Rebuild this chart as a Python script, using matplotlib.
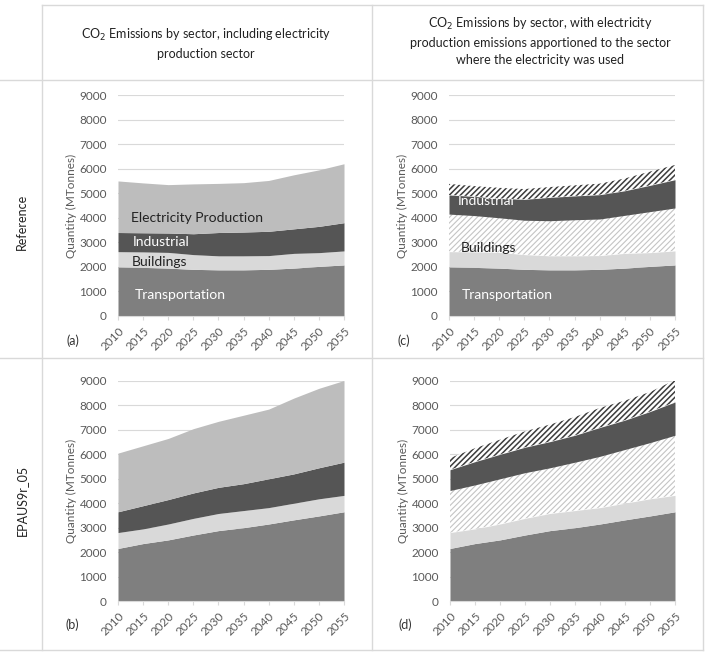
import matplotlib
matplotlib.use('Agg')
import matplotlib.pyplot as plt
from matplotlib.lines import Line2D

plt.rcParams['font.family'] = ['Lato', 'DejaVu Sans']

years = [2010, 2015, 2020, 2025, 2030, 2035, 2040, 2045, 2050, 2055]

# Reference scenario (MTonnes)
ref_transport = [2000, 1980, 1950, 1900, 1880, 1880, 1900, 1950, 2020, 2080]
ref_buildings = [620, 630, 640, 600, 570, 570, 560, 600, 560, 570]
ref_industrial = [780, 780, 790, 850, 950, 970, 990, 1000, 1070, 1150]
ref_elec = [2100, 2030, 1970, 2030, 2000, 2010, 2070, 2200, 2300, 2400]
# electricity apportioned to end-use sectors
ref_bld_elec = [1530, 1480, 1410, 1400, 1430, 1470, 1490, 1550, 1670, 1750]
ref_ind_elec = [450, 420, 430, 420, 420, 430, 450, 500, 560, 600]

# EPAUS9r_05 scenario (MTonnes)
epa_transport = [2150, 2350, 2500, 2700, 2880, 3000, 3150, 3320, 3480, 3650]
epa_buildings = [650, 600, 650, 680, 700, 700, 670, 680, 700, 670]
epa_industrial = [850, 950, 1000, 1040, 1070, 1100, 1180, 1200, 1270, 1360]
epa_elec = [2400, 2450, 2500, 2630, 2700, 2800, 2850, 3100, 3250, 3340]
epa_bld_elec = [1720, 1800, 1850, 1870, 1870, 1980, 2100, 2200, 2300, 2460]
epa_ind_elec = [480, 550, 600, 650, 700, 750, 800, 800, 800, 900]

row_labels = ['Reference', 'EPAUS9r_05']
col_titles = ['CO$_2$ Emissions by sector, including electricity\nproduction sector',
              'CO$_2$ Emissions by sector, with electricity\nproduction emissions apportioned to the sector\nwhere the electricity was used']

c_trans = '#7f7f7f'
c_bld = '#d9d9d9'
c_ind = '#555555'
c_elec = '#bdbdbd'
grey_txt = '#595959'


def cum(*series):
	out = []
	tot = [0] * len(years)
	for s in series:
		tot = [a + b for a, b in zip(tot, s)]
		out.append(tot)
	return out


def style_axis(ax, letter):
	ax.set_xlim(2010, 2055)
	ax.set_ylim(0, 9000)
	ax.set_yticks(range(0, 9001, 1000))
	ax.set_xticks(years)
	ax.set_xticklabels([str(y) for y in years], rotation=45, ha='right', rotation_mode='anchor')
	ax.grid(axis='y', color='#d9d9d9', lw=0.8)
	ax.set_axisbelow(True)
	for s in ['top', 'right', 'left']:
		ax.spines[s].set_visible(False)
	ax.spines['bottom'].set_color('#d9d9d9')
	ax.tick_params(axis='y', length=0, labelsize=8.5, labelcolor=grey_txt, pad=8)
	ax.tick_params(axis='x', length=3, color='#d9d9d9', labelsize=8.5, labelcolor=grey_txt)
	ax.set_ylabel('Quantity (MTonnes)', fontsize=8.5, color=grey_txt, labelpad=2)
	ax.text(-0.2, -0.11, letter, transform=ax.transAxes, fontsize=9, color='#333333',
		ha='center', va='center')


def plot_left(ax, tr, bd, ind, el, letter, labels):
	t, b, i, e = cum(tr, bd, ind, el)
	ax.fill_between(years, 0, t, color=c_trans, lw=0, zorder=2)
	ax.fill_between(years, t, b, color=c_bld, lw=0, zorder=2)
	ax.fill_between(years, b, i, color=c_ind, lw=0, zorder=2)
	ax.fill_between(years, i, e, color=c_elec, lw=0, zorder=2)
	if labels:
		ax.text(2012.6, 4000, 'Electricity Production', fontsize=10, color='#222222', va='center', zorder=5)
		ax.text(2013, 3000, 'Industrial', fontsize=10, color='white', va='center', zorder=5)
		ax.text(2012.8, 2200, 'Buildings', fontsize=10, color='#222222', va='center', zorder=5)
		ax.text(2013.4, 850, 'Transportation', fontsize=10, color='white', va='center', zorder=5)
	style_axis(ax, letter)


def plot_right(ax, tr, bd, bde, ind, inde, letter, labels):
	t, b, be, i, ie = cum(tr, bd, bde, ind, inde)
	ax.fill_between(years, 0, t, color=c_trans, lw=0, zorder=2)
	ax.fill_between(years, t, b, color=c_bld, lw=0, zorder=2)
	plt.rcParams['hatch.linewidth'] = 0.8
	ax.fill_between(years, b, be, facecolor='white', edgecolor='#c4c4c4', hatch='//////', lw=0, zorder=2)
	ax.fill_between(years, be, i, color=c_ind, lw=0, zorder=2)
	plt.rcParams['hatch.linewidth'] = 1.1
	ax.fill_between(years, i, ie, facecolor='white', edgecolor='#3c3c3c', hatch='//////', lw=0, zorder=3)
	if labels:
		ax.text(2011.8, 4700, 'Industrial', fontsize=10, color='white', va='center', zorder=2.5)
		ax.text(2012.4, 2750, 'Buildings', fontsize=10, color='#222222', va='center', zorder=5)
		ax.text(2012.6, 850, 'Transportation', fontsize=10, color='white', va='center', zorder=5)
	style_axis(ax, letter)


fig = plt.figure(figsize=(7.11, 6.58), dpi=100)
W, H = 711, 658


def px_axes(x0, y0, x1, y1):
	return fig.add_axes([x0 / W, 1 - y1 / H, (x1 - x0) / W, (y1 - y0) / H])


ax_a = px_axes(118, 95, 344, 316)
ax_c = px_axes(449, 95, 675, 316)
ax_b = px_axes(118, 381, 344, 601)
ax_d = px_axes(450, 381, 675, 601)

plot_left(ax_a, ref_transport, ref_buildings, ref_industrial, ref_elec, '(a)', True)
plot_right(ax_c, ref_transport, ref_buildings, ref_bld_elec, ref_industrial, ref_ind_elec, '(c)', True)
plot_left(ax_b, epa_transport, epa_buildings, epa_industrial, epa_elec, '(b)', False)
plot_right(ax_d, epa_transport, epa_buildings, epa_bld_elec, epa_industrial, epa_ind_elec, '(d)', False)

# table grid lines
line_col = '#d9d9d9'


def hline(y, x0, x1):
	fig.add_artist(Line2D([x0 / W, x1 / W], [1 - y / H, 1 - y / H], color=line_col, lw=1))


def vline(x, y0, y1):
	fig.add_artist(Line2D([x / W, x / W], [1 - y0 / H, 1 - y1 / H], color=line_col, lw=1))


hline(5, 42, 703)
hline(80, 0, 703)
hline(358, 0, 703)
hline(650, 0, 703)
vline(42, 5, 650)
vline(372, 5, 650)
vline(703, 5, 650)

fig.text(206 / W, 1 - 43 / H, col_titles[0], ha='center', va='center', fontsize=9, color='#222222', linespacing=1.5)
fig.text(540 / W, 1 - 41 / H, col_titles[1], ha='center', va='center', fontsize=9, color='#222222', linespacing=1.5)
fig.text(22 / W, 1 - 222 / H, row_labels[0], rotation=90, ha='center', va='center', fontsize=9, color='#222222')
fig.text(22 / W, 1 - 500 / H, row_labels[1], rotation=90, ha='center', va='center', fontsize=9, color='#222222')

fig.savefig('out.png', dpi=100)
print('Saved plot to out.png')
